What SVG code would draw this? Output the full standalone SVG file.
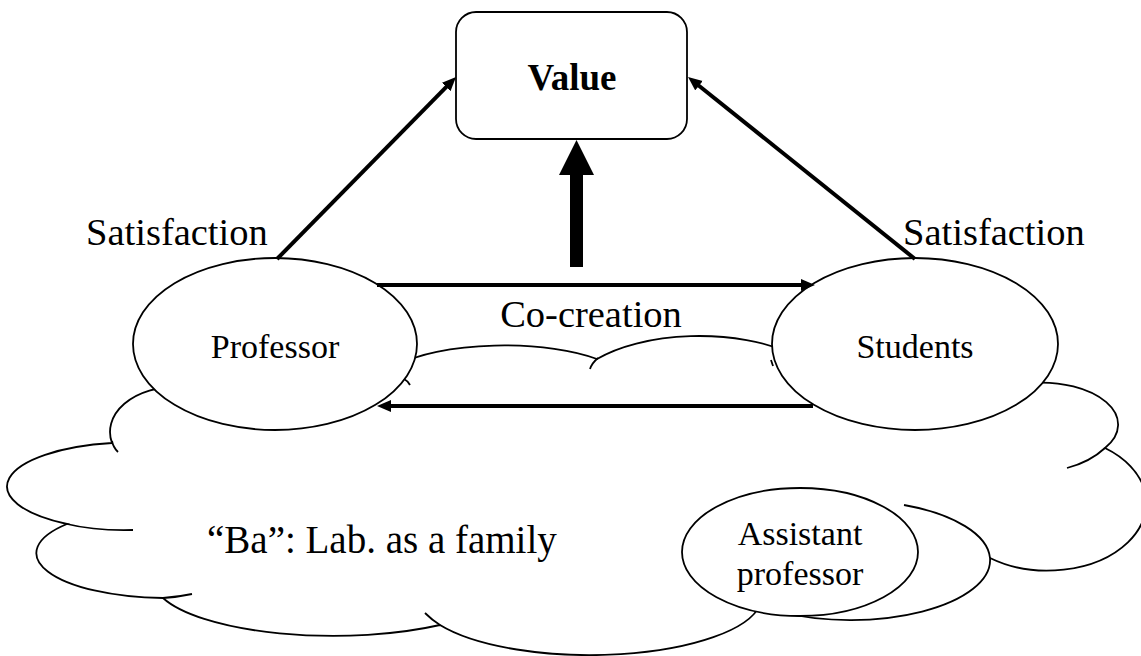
<svg xmlns="http://www.w3.org/2000/svg" width="1141" height="656" viewBox="0 0 1141 656">
<defs>
<style>
.outline{fill:#fff;stroke:#000;stroke-width:1.8}
.tail{fill:none;stroke:#000;stroke-width:1.8}
.arrow{fill:none;stroke:#000;stroke-width:4;marker-end:url(#ah)}
text{font-family:"Liberation Serif","Times New Roman",serif;fill:#000}
.node{font-size:34px;text-anchor:middle}
.lbl{font-size:38.5px}
</style>
<marker id="ah" markerUnits="userSpaceOnUse" markerWidth="16" markerHeight="14" refX="2" refY="6" orient="auto">
<path d="M0,0 L14,6 L0,12 z" fill="#000"/>
</marker>
</defs>
<rect width="1141" height="656" fill="#fff"/>

<g id="cloud">
<path class="outline" d="M 400 364 A 120 37 0 0 1 597 359 A 130 60 0 0 1 790 353 L 1030 383 A 77 42 0 0 1 1105 448 A 98 67 0 0 1 990 558 A 140 60 0 0 1 780 612 L 760 605 A 172 59 0 0 1 440 625 A 180 56 0 0 1 163 598 A 130 45 0 0 1 67 524 A 125 44 0 0 1 112 443 A 65 45 0 0 1 177 387 L 300 380 Z"/>
<path class="tail" d="M 590 369 Q 592 363 598 358"/>
<path class="tail" d="M 1105 448 Q 1090 462 1067 468"/>
<path class="tail" d="M 67 524 Q 95 531 133 530"/>
<path class="tail" d="M 112 441 Q 113 447 118 452"/>
<path class="tail" d="M 163 598 Q 178 597 192 594"/>
<path class="tail" d="M 440 625 Q 432 620 425 613"/>
<path class="tail" d="M 904 505 A 140 60 0 0 1 990 558"/>
<path class="tail" d="M 404 379 Q 408 381 410 385"/>
<path class="tail" d="M 771 360 L 773 366"/>
<text x="207" y="553" font-size="39">“Ba”: Lab. as a family</text>
</g>

<g id="professor">
<ellipse class="outline" cx="275" cy="344" rx="142" ry="86"/>
<text class="node" x="275" y="358">Professor</text>
</g>

<g id="students">
<ellipse class="outline" cx="915" cy="344" rx="143" ry="86"/>
<text class="node" x="915" y="358">Students</text>
</g>

<g id="assistant">
<ellipse class="outline" cx="800" cy="552" rx="118" ry="64"/>
<text class="node" x="800" y="545">Assistant</text>
<text class="node" x="800" y="585">professor</text>
</g>

<g id="value">
<rect class="outline" x="456" y="12" width="231" height="127" rx="20" ry="20"/>
<text x="572" y="90" font-size="37" font-weight="bold" text-anchor="middle">Value</text>
</g>

<g id="connectors">
<polygon points="570,267 583,267 583,175 594,175 576.5,140 559,175 570,175" fill="#000"/>
<line class="arrow" x1="277" y1="259" x2="447.6" y2="85.6"/>
<line class="arrow" x1="915" y1="259" x2="697.4" y2="84.5"/>
<line class="arrow" x1="377" y1="285" x2="803" y2="285"/>
<line class="arrow" x1="813" y1="406" x2="389" y2="406"/>
<text class="lbl" x="86" y="245">Satisfaction</text>
<text class="lbl" x="903" y="245">Satisfaction</text>
<text class="lbl" x="591" y="327" text-anchor="middle">Co-creation</text>
</g>
</svg>
